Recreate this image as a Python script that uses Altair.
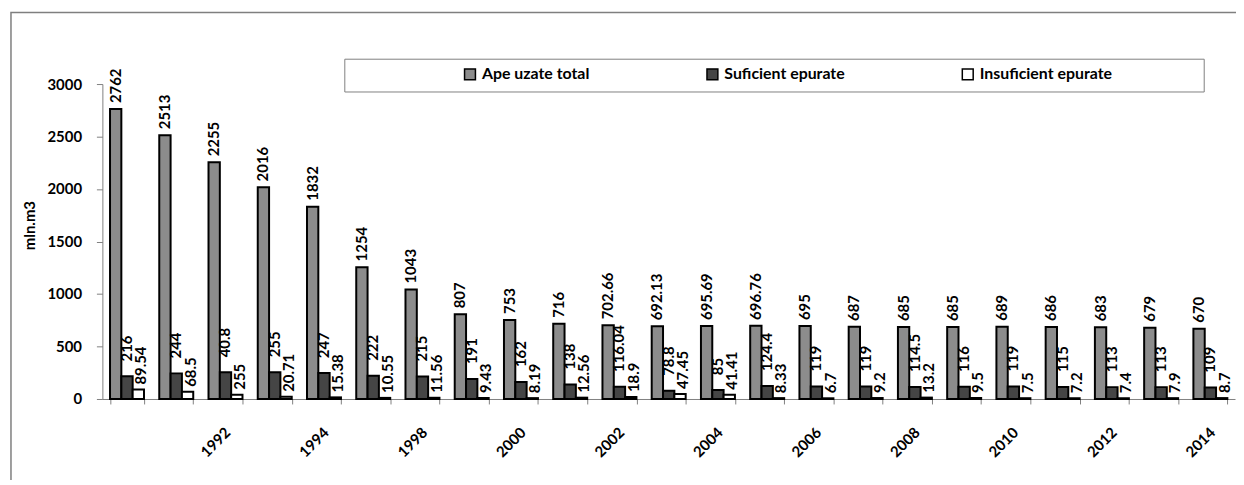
import altair as alt
import pandas as pd

# ---- data ----
years = ["1990", "1991", "1992", "1993", "1994", "1995", "1998", "1999", "2000",
         "2001", "2002", "2003", "2004", "2005", "2006", "2007", "2008", "2009",
         "2010", "2011", "2012", "2013", "2014"]
shown_year_labels = ["1992", "1994", "1998", "2000", "2002", "2004", "2006",
                     "2008", "2010", "2012", "2014"]

series = ["Ape uzate total", "Suficient epurate", "Insuficient epurate"]
colors = ["#8c8c8c", "#454545", "#ffffff"]

total = [2762, 2513, 2255, 2016, 1832, 1254, 1043, 807, 753, 716, 702.66, 692.13,
         695.69, 696.76, 695, 687, 685, 685, 689, 686, 683, 679, 670]
suficient = [216, 244, 255, 255, 247, 222, 215, 191, 162, 138, 116.04, 78.8, 85,
             124.4, 119, 119, 114.5, 116, 119, 115, 113, 113, 109]
insuficient = [89.54, 68.5, 40.8, 20.71, 15.38, 10.55, 11.56, 9.43, 8.19, 12.56,
               18.9, 47.45, 41.41, 8.33, 6.7, 9.2, 13.2, 9.5, 7.5, 7.2, 7.4, 7.9, 8.7]

# printed data labels (as they appear in the source, incl. the swapped pair in 1992)
total_labels = [f"{v:g}" for v in total]
suficient_labels = [f"{v:g}" for v in suficient]
insuficient_labels = [f"{v:g}" for v in insuficient]
suficient_labels[2] = "40.8"
insuficient_labels[2] = "255"

rows = []
for vals, labs, s in [(total, total_labels, series[0]),
                      (suficient, suficient_labels, series[1]),
                      (insuficient, insuficient_labels, series[2])]:
    for y, v, l in zip(years, vals, labs):
        rows.append({"year": y, "series": s, "value": v, "label": l})
df = pd.DataFrame(rows)

FONT = "Lato"
label_list = "[" + ",".join(f"'{y}'" for y in shown_year_labels) + "]"

x_enc = alt.X(
    "year:N", sort=years,
    scale=alt.Scale(paddingInner=0.31, paddingOuter=0.155),
    axis=alt.Axis(
        title=None, labelAngle=-45, labelAlign="right", labelBaseline="top",
        labelExpr=f"indexof({label_list}, datum.label) >= 0 ? datum.label : ''",
        tickBand="extent", tickSize=5, tickColor="#808080", domainColor="#808080",
        labelFont=FONT, labelFontWeight="bold", labelFontSize=15, labelColor="black",
        labelPadding=21, labelOffset=-3, labelLimit=0, labelOverlap=False,
    ),
)
xoff_enc = alt.XOffset("series:N", sort=series, scale=alt.Scale(domain=series))
y_enc = alt.Y(
    "value:Q", scale=alt.Scale(domain=[0, 3000]),
    axis=alt.Axis(
        title="mln.m3", values=[0, 500, 1000, 1500, 2000, 2500, 3000], format="d",
        grid=False, tickSize=6, tickColor="#808080", domainColor="#808080",
        labelFont=FONT, labelFontWeight="bold", labelFontSize=15, labelColor="black",
        labelPadding=15,
        titleFont=FONT, titleFontWeight="bold", titleFontSize=15, titleColor="black",
        titleAngle=270, titleBaseline="middle", titleAlign="center",
        titleX=-73, titleY=142,
    ),
)

base = alt.Chart(df).encode(x=x_enc, xOffset=xoff_enc)

bars = base.mark_bar(stroke="black", strokeWidth=2).encode(
    y=y_enc,
    color=alt.Color(
        "series:N", sort=series,
        scale=alt.Scale(domain=series, range=colors),
        legend=alt.Legend(
            title=None, orient="none", legendX=362, legendY=-18,
            direction="horizontal", columns=3, columnPadding=114, padding=0,
            symbolType="square", symbolSize=120, symbolStrokeColor="black",
            symbolStrokeWidth=1.5, labelFont=FONT, labelFontWeight="bold",
            labelFontSize=16, labelColor="black", labelOffset=4, labelLimit=0,
        ),
    ),
)

offsets = {series[0]: (6, 0), series[1]: (15, 0), series[2]: (5, 3)}
text_layers = []
for s in series:
    dx, dy = offsets[s]
    text_layers.append(
        base.transform_filter(alt.datum.series == s)
        .mark_text(angle=270, align="left", baseline="middle", dx=dx, dy=dy,
                   font=FONT, fontWeight="bold", fontSize=15, color="black")
        .encode(y=alt.Y("value:Q"), text="label:N")
    )

one = pd.DataFrame({"k": [0]})
frame = alt.Chart(one).mark_rect(fillOpacity=0, stroke="#7f7f7f", strokeWidth=1.5).encode(
    x=alt.value(-92), x2=alt.value(1400), y=alt.value(-72), y2=alt.value(600)
)
legend_box = alt.Chart(one).mark_rect(fill="white", stroke="#808080", strokeWidth=1).encode(
    x=alt.value(244), x2=alt.value(1109), y=alt.value(-25), y2=alt.value(8)
)

chart = alt.layer(frame, legend_box, bars, *text_layers).properties(
    width=1140, height=317,
    autosize=alt.AutoSizeParams(type="none"),
    padding={"left": 95, "top": 75, "right": 1, "bottom": 80},
).configure_view(strokeWidth=0)

chart.save("out.html", embed_options={"renderer": "svg", "actions": False})
